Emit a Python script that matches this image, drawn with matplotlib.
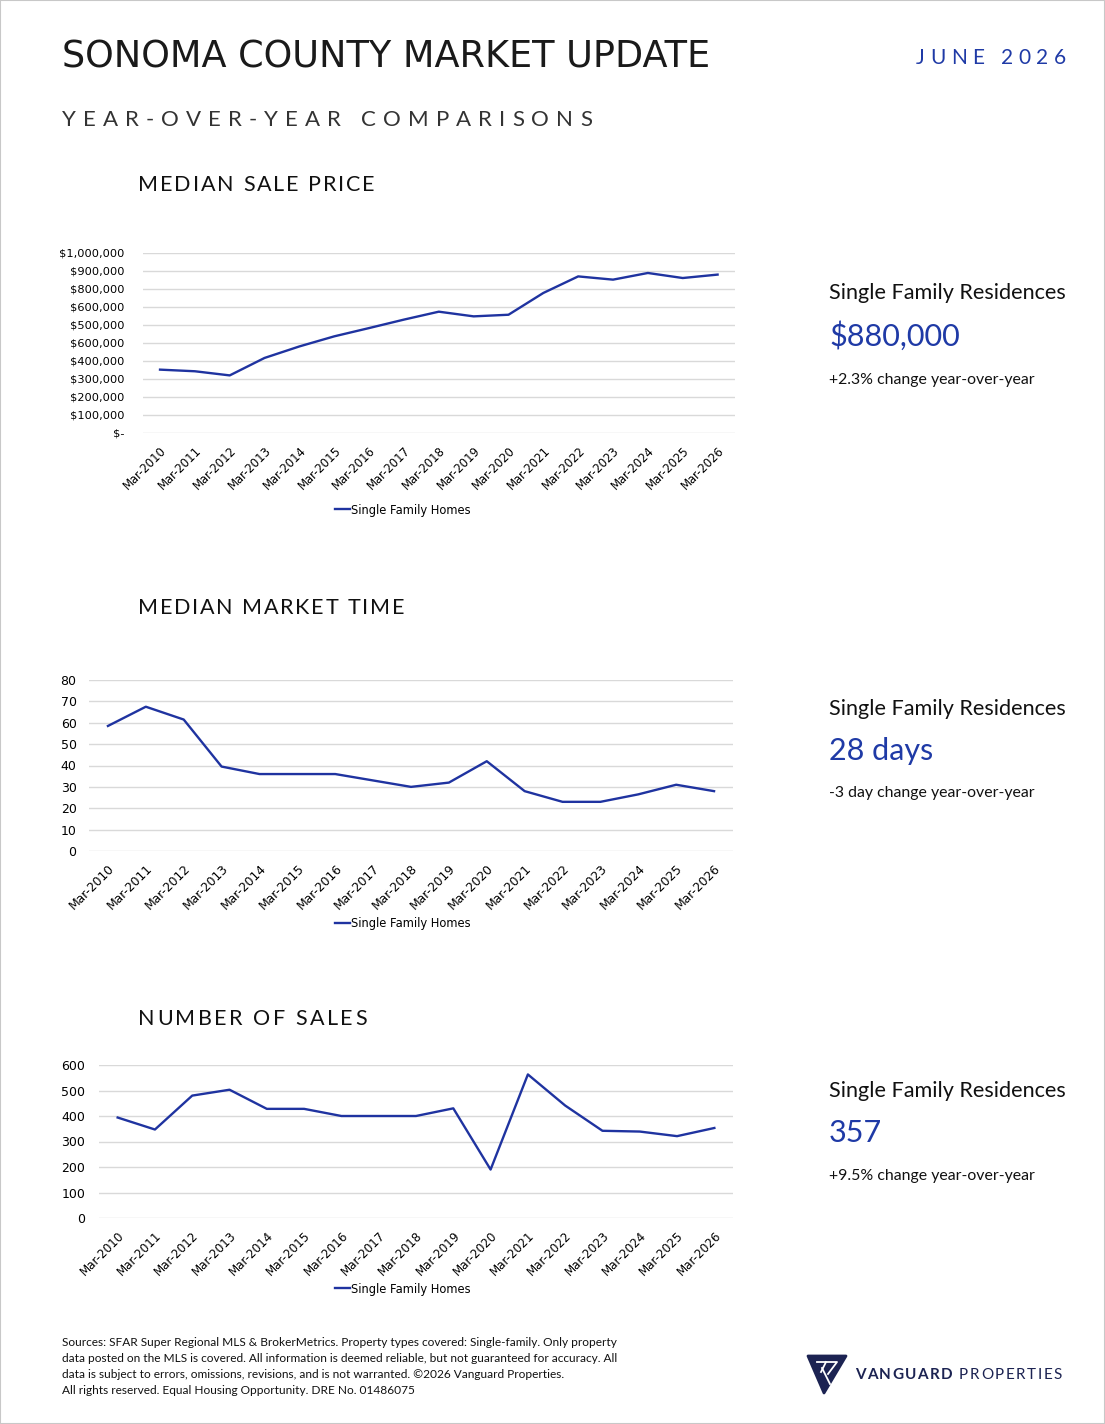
"""
plot.py - Sonoma County market update page (three yearly line charts + side stats).
"""

import matplotlib
matplotlib.use("Agg")
import matplotlib.pyplot as plt
from matplotlib.patches import Polygon, Rectangle
from matplotlib.lines import Line2D

W, H = 1105, 1424

# data

YEARS = ["Mar-2010", "Mar-2011", "Mar-2012", "Mar-2013", "Mar-2014", "Mar-2015",
         "Mar-2016", "Mar-2017", "Mar-2018", "Mar-2019", "Mar-2020", "Mar-2021",
         "Mar-2022", "Mar-2023", "Mar-2024", "Mar-2025", "Mar-2026"]

SALE_PRICE = [352000, 343000, 320000, 417000, 481000, 537000, 583000, 630000, 674000,
              648000, 657000, 778000, 870000, 852000, 889000, 861000, 880000]
MARKET_TIME = [58.5, 67.5, 61.5, 39.5, 36, 36, 36, 33, 30, 32, 42, 28, 23, 23, 26.5, 31, 28]
NUM_SALES = [394, 347, 480, 503, 428, 428, 400, 400, 400, 430, 190, 563, 441, 342, 339, 321, 353]

PRICE_TICKS = [0, 100000, 200000, 300000, 400000, 500000, 600000, 700000, 800000, 900000, 1000000]
# tick labels as printed on the source page
PRICE_TICKLABELS = ["$-", "$100,000", "$200,000", "$300,000", "$400,000", "$600,000",
                    "$500,000", "$600,000", "$800,000", "$900,000", "$1,000,000"]
TIME_TICKS = [0, 10, 20, 30, 40, 50, 60, 70, 80]
SALES_TICKS = [0, 100, 200, 300, 400, 500, 600]

SERIES_LABEL = "Single Family Homes"
SIDE_HEAD = "Single Family Residences"
SIDE_VALUES = ["$880,000", "28 days", "357"]
SIDE_CHANGES = ["+2.3% change year-over-year", "-3 day change year-over-year",
                "+9.5% change year-over-year"]
SECTION_TITLES = ["MEDIAN SALE PRICE", "MEDIAN MARKET TIME", "NUMBER OF SALES"]

FOOTER = [
    "Sources: SFAR Super Regional MLS & BrokerMetrics. Property types covered: Single-family. Only property",
    "data posted on the MLS is covered. All information is deemed reliable, but not guaranteed for accuracy. All",
    "data is subject to errors, omissions, revisions, and is not warranted. \u00a92026 Vanguard Properties.",
    "All rights reserved. Equal Housing Opportunity. DRE No. 01486075",
]

# style

LINE_BLUE = "#1f33a0"
TEXT_BLUE = "#1f3aa6"
NAVY = "#1c2352"
GRID = "#d9d9d9"
NARROW = ["Liberation Sans Narrow", "DejaVu Sans"]
BODY = ["Lato", "DejaVu Sans"]

fig = plt.figure(figsize=(W / 100, H / 100), dpi=100)
fig.patch.set_facecolor("white")
renderer = fig.canvas.get_renderer()


def fx(x):
    return x / W


def fy(y):
    return 1 - y / H


def tracked_text(x0, x1, y, s, size, color, family, weight="normal"):
    """Draw s letter by letter so that it spans x0..x1 pixels (baseline at y)."""
    def ink(sub):
        t = fig.text(0, 0, sub, fontsize=size, family=family, weight=weight)
        w = t.get_window_extent(renderer).width
        t.remove()
        return w
    bar = ink("|")
    offs = [ink(s[:i] + "|") - bar for i in range(len(s) + 1)]
    # matplotlib aligns the ink box, so put back each glyph's left bearing
    bearing = {c: ink("|" + c) - bar - ink(c) for c in set(s) if c != " "}
    track = (x1 - x0 - offs[-1]) / max(len(s) - 1, 1)
    for i, ch in enumerate(s):
        if ch == " ":
            continue
        x = x0 + offs[i] + bearing[ch] - bearing[s[0]] + i * track
        fig.text(fx(x), fy(y), ch, fontsize=size, family=family,
                 weight=weight, color=color, ha="left", va="baseline")


def line_chart(box, values, ticks, ticklabels, ylim, ytick_size, ypad, xtick_size, legend_y):
    left, right, top, bottom = box
    ax = fig.add_axes([fx(left), fy(bottom), (right - left) / W, (bottom - top) / H])
    xs = range(len(YEARS))
    ax.plot(xs, values, color=LINE_BLUE, lw=1.7, solid_joinstyle="round")
    ax.set_xlim(-0.5, len(YEARS) - 0.5)
    ax.set_ylim(*ylim)
    ax.set_yticks(ticks)
    ax.set_yticklabels(ticklabels, fontsize=ytick_size, family=NARROW)
    ax.set_xticks(list(xs))
    ax.set_xticklabels(YEARS, fontsize=xtick_size, family=NARROW, rotation=45,
                       ha="right", va="top", rotation_mode="anchor")
    ax.tick_params(length=0)
    ax.tick_params(axis="y", pad=ypad)
    ax.tick_params(axis="x", pad=8)
    ax.grid(axis="y", color=GRID, lw=1)
    ax.set_axisbelow(True)
    for sp in ax.spines.values():
        sp.set_visible(False)
    handle = Line2D([], [], color=LINE_BLUE, lw=1.7)
    fig.legend([handle], [SERIES_LABEL], loc="center", bbox_to_anchor=(fx(403), fy(legend_y)),
               frameon=False, handlelength=1.3, handletextpad=0.1,
               prop={"family": NARROW, "size": 8.3})
    return ax


# header
fig.text(fx(62), fy(67), "SONOMA COUNTY MARKET UPDATE", fontsize=26.4, family=NARROW,
         color="#1a1a1a", ha="left", va="baseline")
tracked_text(916, 1066, 64, "JUNE 2026", 15, TEXT_BLUE, BODY)
tracked_text(62, 592, 126, "YEAR-OVER-YEAR COMPARISONS", 16, "#333333", BODY)

# section titles
for title, y, x1 in zip(SECTION_TITLES, [191, 614, 1025], [375, 404, 367]):
    tracked_text(138, x1, y, title, 15.5, "#111111", BODY)

# charts
line_chart((142.6, 735, 253, 433), SALE_PRICE, PRICE_TICKS, PRICE_TICKLABELS,
           (0, 1000000), 8.2, 13, 8.4, 510)
line_chart((89, 733, 680, 851), MARKET_TIME, TIME_TICKS, [str(t) for t in TIME_TICKS],
           (0, 80), 9, 9, 8.8, 924)
line_chart((99, 733, 1065, 1218), NUM_SALES, SALES_TICKS, [str(t) for t in SALES_TICKS],
           (0, 600), 9, 10, 8.6, 1289)

# side stats
for (yh, yv, yc), val, chg in zip([(293, 336, 380), (709, 751, 793), (1091, 1133, 1176)],
                                  SIDE_VALUES, SIDE_CHANGES):
    fig.text(fx(829), fy(yh), SIDE_HEAD, fontsize=15.6, family=BODY, color="#111111",
             ha="left", va="center")
    fig.text(fx(829), fy(yv), val, fontsize=22, family=BODY, color=TEXT_BLUE,
             ha="left", va="center")
    fig.text(fx(829), fy(yc), chg, fontsize=11.4, family=BODY, color="#111111",
             ha="left", va="center")

# footer
for i, line in enumerate(FOOTER):
    fig.text(fx(62), fy(1343 + 16 * i), line, fontsize=8.55, family=BODY, color="#111111",
             ha="left", va="center")

# logo
tri = [(fx(808), fy(1356)), (fx(846), fy(1356)), (fx(824), fy(1393))]
fig.patches.append(Polygon(tri, closed=True, facecolor=NAVY, edgecolor=NAVY, lw=2,
                           joinstyle="round", transform=fig.transFigure))
for seg in [[(817, 1362), (837, 1362), (828, 1374)],
            [(822, 1368), (830, 1384)],
            [(826, 1362), (821, 1372)]]:
    fig.lines.append(Line2D([fx(p[0]) for p in seg], [fy(p[1]) for p in seg],
                            color="white", lw=1.3, transform=fig.transFigure))
tracked_text(855, 952, 1379, "VANGUARD", 11, NAVY, BODY, weight="bold")
tracked_text(959, 1062, 1379, "PROPERTIES", 11, NAVY, BODY)

# page frame
fig.patches.append(Rectangle((0, 0), 1, 1, transform=fig.transFigure, fill=False,
                             edgecolor="#c8c8c8", lw=1.5))

fig.savefig("out.png", dpi=100)
